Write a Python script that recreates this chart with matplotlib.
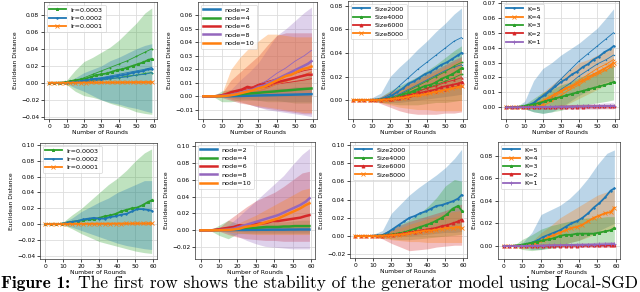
import matplotlib
matplotlib.use("Agg")
import matplotlib.pyplot as plt

# ---------------- data ----------------
ROUNDS_LINE = [0, 3, 6, 9, 12, 15, 18, 21, 24, 27, 30, 33, 36, 39, 42, 45, 48, 51, 54, 57, 59]
ROUNDS_BAND = [0, 5, 10, 15, 20, 25, 30, 35, 40, 45, 50, 55, 59]
X_TICKS = [0, 10, 20, 30, 40, 50, 60]

# Panel 1: learning rate (Local-SGD)
P1_LR3 = [0, 0, 0.0002, 0.0005, 0.002, 0.003, 0.004, 0.005, 0.007, 0.009, 0.010, 0.011, 0.013, 0.015, 0.016, 0.018, 0.020, 0.022, 0.024, 0.027, 0.028]
P1_LR2 = [0, 0, 0, 0.0002, 0.0005, 0.001, 0.002, 0.003, 0.004, 0.005, 0.005, 0.006, 0.007, 0.008, 0.009, 0.010, 0.012, 0.013, 0.014, 0.016, 0.016]
P1_LR1 = [0, 0, 0, 0, 0.0001, 0.0002, 0.0003, 0.0003, 0.0004, 0.0004, 0.0005, 0.0005, 0.0006, 0.0006, 0.0007, 0.0007, 0.0008, 0.0008, 0.0009, 0.0009, 0.001]
P1_LR3_LO = [0, 0, -0.002, -0.010, -0.015, -0.017, -0.020, -0.024, -0.027, -0.030, -0.034, -0.036, -0.037]
P1_LR3_HI = [0, 0, 0.003, 0.015, 0.025, 0.030, 0.036, 0.042, 0.050, 0.060, 0.070, 0.082, 0.088]
P1_LR2_LO = [0, 0, -0.001, -0.006, -0.010, -0.015, -0.020, -0.023, -0.025, -0.028, -0.030, -0.033, -0.035]
P1_LR2_HI = [0, 0, 0.001, 0.006, 0.012, 0.016, 0.020, 0.026, 0.030, 0.035, 0.040, 0.044, 0.046]
P1_LR1_LO = [0, 0, 0, -0.0003, -0.0004, -0.0005, -0.0005, -0.0006, -0.0006, -0.0007, -0.0007, -0.0008, -0.0008]
P1_LR1_HI = [0, 0, 0, 0.0006, 0.0008, 0.001, 0.0012, 0.0014, 0.0016, 0.0018, 0.002, 0.0022, 0.0024]
# individual runs (highest / lowest) of the top row
P1_LR3_RUN_HI = [0, 0, 0, 0.002, 0.006, 0.010, 0.014, 0.018, 0.022, 0.026, 0.031, 0.036, 0.040]
P1_LR3_RUN_LO = [0, 0, 0, 0.001, 0.002, 0.003, 0.004, 0.005, 0.006, 0.008, 0.009, 0.011, 0.012]
P1_LR2_RUN_HI = [0, 0, 0, 0.0005, 0.002, 0.004, 0.006, 0.008, 0.010, 0.012, 0.014, 0.016, 0.018]
P1_LR2_RUN_LO = [0, 0, 0, 0, 0.001, 0.002, 0.003, 0.005, 0.006, 0.007, 0.009, 0.010, 0.012]

# Panel 2: number of nodes (Local-SGD)
P2_N2 = [0, 0, 0, 0, 0, 0.0001, 0.0002, 0.0003, 0.0004, 0.0005, 0.0006, 0.0007, 0.0008, 0.0009, 0.001, 0.0011, 0.0012, 0.0013, 0.0014, 0.0015, 0.0016]
P2_N4 = [0, 0, 0, 0.0003, 0.0006, 0.001, 0.0013, 0.0017, 0.002, 0.0023, 0.0026, 0.003, 0.0033, 0.0036, 0.004, 0.0043, 0.0046, 0.005, 0.0053, 0.0056, 0.0058]
P2_N6 = [0, 0, 0, 0.0005, 0.0015, 0.003, 0.004, 0.005, 0.007, 0.006, 0.008, 0.009, 0.009, 0.010, 0.011, 0.012, 0.013, 0.014, 0.015, 0.016, 0.016]
P2_N8 = [0, 0, 0, 0.0002, 0.0006, 0.001, 0.002, 0.003, 0.004, 0.005, 0.007, 0.008, 0.010, 0.012, 0.014, 0.016, 0.018, 0.020, 0.022, 0.024, 0.026]
P2_N10 = [0, 0, 0, 0, 0.0003, 0.0008, 0.0015, 0.0025, 0.0035, 0.0045, 0.006, 0.007, 0.009, 0.011, 0.013, 0.015, 0.016, 0.018, 0.020, 0.021, 0.022]
P2_N2_LO = [0, 0, 0, -0.001, -0.002, -0.002, -0.003, -0.003, -0.003, -0.004, -0.004, -0.004, -0.004]
P2_N2_HI = [0, 0, 0, 0.002, 0.003, 0.004, 0.005, 0.005, 0.006, 0.006, 0.007, 0.007, 0.007]
P2_N4_LO = [0, 0, -0.004, -0.004, -0.003, -0.003, -0.003, -0.004, -0.004, -0.004, -0.005, -0.005, -0.005]
P2_N4_HI = [0, 0, 0.004, 0.005, 0.005, 0.006, 0.007, 0.008, 0.009, 0.010, 0.012, 0.014, 0.016]
P2_N6_LO = [0, 0, -0.001, -0.003, -0.005, -0.006, -0.008, -0.009, -0.010, -0.011, -0.012, -0.013, -0.013]
P2_N6_HI = [0, 0, 0.002, 0.012, 0.018, 0.024, 0.030, 0.038, 0.045, 0.047, 0.047, 0.047, 0.047]
P2_N8_LO = [0, 0, 0, -0.002, -0.004, -0.006, -0.008, -0.010, -0.011, -0.012, -0.013, -0.014, -0.015]
P2_N8_HI = [0, 0, 0, 0.005, 0.012, 0.018, 0.025, 0.035, 0.045, 0.050, 0.056, 0.062, 0.066]
P2_N10_LO = [0, 0, 0, -0.002, -0.004, -0.006, -0.007, -0.008, -0.009, -0.010, -0.011, -0.012, -0.012]
P2_N10_HI = [0, 0, 0.002, 0.020, 0.029, 0.036, 0.041, 0.046, 0.046, 0.045, 0.044, 0.044, 0.044]
P2_N6_RUN_HI = [0, 0, 0, 0.001, 0.004, 0.006, 0.009, 0.011, 0.013, 0.015, 0.017, 0.019, 0.020]
P2_N6_RUN_LO = [0, 0, 0, 0.0005, 0.002, 0.004, 0.006, 0.007, 0.009, 0.010, 0.011, 0.012, 0.013]
P2_N8_RUN_HI = [0, 0, 0, 0.0005, 0.002, 0.004, 0.008, 0.012, 0.017, 0.021, 0.026, 0.030, 0.034]
P2_N8_RUN_LO = [0, 0, 0, 0, 0.001, 0.002, 0.004, 0.006, 0.009, 0.011, 0.014, 0.016, 0.018]
P2_N10_RUN_HI = [0, 0, 0, 0, 0.001, 0.003, 0.006, 0.009, 0.013, 0.016, 0.019, 0.023, 0.026]
P2_N10_RUN_LO = [0, 0, 0, 0, 0.0005, 0.002, 0.004, 0.006, 0.009, 0.011, 0.013, 0.016, 0.018]

# Panel 3: dataset size (Local-SGD)
P3_S2000 = [0, 0, 0, 0.0002, 0.0005, 0.001, 0.002, 0.004, 0.007, 0.010, 0.014, 0.016, 0.019, 0.022, 0.024, 0.027, 0.030, 0.032, 0.035, 0.038, 0.040]
P3_S4000 = [0, 0, 0, 0, 0.0002, 0.0005, 0.001, 0.002, 0.003, 0.005, 0.006, 0.008, 0.010, 0.012, 0.013, 0.015, 0.018, 0.020, 0.022, 0.025, 0.027]
P3_S6000 = [0, 0, 0, 0, 0.0001, 0.0003, 0.0006, 0.0012, 0.002, 0.003, 0.004, 0.005, 0.006, 0.007, 0.008, 0.009, 0.011, 0.012, 0.013, 0.014, 0.015]
P3_S8000 = [0, 0, 0, 0, 0, 0.0002, 0.0004, 0.0008, 0.0015, 0.002, 0.003, 0.004, 0.004, 0.005, 0.006, 0.007, 0.008, 0.009, 0.010, 0.011, 0.012]
P3_S2000_LO = [0, 0, -0.001, -0.002, -0.002, -0.002, -0.001, 0.0, 0.001, 0.002, 0.003, 0.004, 0.005]
P3_S2000_HI = [0, 0, 0.002, 0.006, 0.020, 0.028, 0.035, 0.043, 0.050, 0.058, 0.065, 0.073, 0.078]
P3_S4000_LO = [0, 0, 0, -0.002, -0.003, -0.004, -0.004, -0.004, -0.003, -0.002, -0.002, -0.001, 0.0]
P3_S4000_HI = [0, 0, 0, 0.003, 0.008, 0.012, 0.016, 0.020, 0.025, 0.030, 0.036, 0.042, 0.046]
P3_S6000_LO = [0, 0, 0, -0.003, -0.006, -0.009, -0.011, -0.012, -0.012, -0.012, -0.011, -0.011, -0.010]
P3_S6000_HI = [0, 0, 0, 0.003, 0.007, 0.010, 0.014, 0.018, 0.022, 0.026, 0.030, 0.034, 0.037]
P3_S8000_LO = [0, 0, 0, -0.002, -0.004, -0.006, -0.007, -0.008, -0.008, -0.009, -0.009, -0.009, -0.009]
P3_S8000_HI = [0, 0, 0, 0.002, 0.006, 0.009, 0.013, 0.016, 0.020, 0.024, 0.028, 0.032, 0.035]
P3_S2000_RUN_HI = [0, 0, 0, 0.001, 0.005, 0.012, 0.019, 0.026, 0.032, 0.038, 0.044, 0.050, 0.053]
P3_S2000_RUN_LO = [0, 0, 0, 0, 0.002, 0.005, 0.009, 0.013, 0.017, 0.021, 0.025, 0.028, 0.030]
P3_S4000_RUN_HI = [0, 0, 0, 0, 0.001, 0.004, 0.008, 0.012, 0.016, 0.020, 0.024, 0.029, 0.032]
P3_S4000_RUN_LO = [0, 0, 0, 0, 0.0005, 0.002, 0.005, 0.008, 0.010, 0.013, 0.016, 0.019, 0.022]
P3_S6000_RUN_HI = [0, 0, 0, 0, 0.0005, 0.002, 0.004, 0.007, 0.010, 0.012, 0.015, 0.017, 0.019]
P3_S6000_RUN_LO = [0, 0, 0, 0, 0, 0.001, 0.002, 0.004, 0.006, 0.007, 0.009, 0.011, 0.012]

# Panel 4: local steps K (Local-SGD)
P4_K5 = [0, 0, 0, 0.0005, 0.0015, 0.003, 0.006, 0.008, 0.011, 0.014, 0.017, 0.019, 0.022, 0.024, 0.027, 0.029, 0.032, 0.034, 0.037, 0.039, 0.041]
P4_K4 = [0, 0, 0, 0, 0.0005, 0.001, 0.003, 0.005, 0.007, 0.009, 0.011, 0.013, 0.014, 0.016, 0.018, 0.020, 0.022, 0.024, 0.026, 0.028, 0.030]
P4_K3 = [0, 0, 0.0003, 0.0008, 0.0015, 0.002, 0.003, 0.004, 0.005, 0.006, 0.007, 0.008, 0.009, 0.010, 0.011, 0.012, 0.013, 0.014, 0.015, 0.016, 0.017]
P4_K2 = [0, 0, 0, 0.0001, 0.0001, 0.0002, 0.0002, 0.0003, 0.0003, 0.0003, 0.0004, 0.0004, 0.0005, 0.0005, 0.0005, 0.0006, 0.0006, 0.0006, 0.0007, 0.0007, 0.0007]
P4_K1 = [0, 0, 0, 0.0001, 0.0001, 0.0002, 0.0002, 0.0003, 0.0003, 0.0004, 0.0004, 0.0005, 0.0005, 0.0006, 0.0006, 0.0007, 0.0007, 0.0008, 0.0009, 0.0009, 0.001]
P4_K5_LO = [0, 0, -0.001, -0.003, -0.004, -0.003, 0.0, 0.004, 0.008, 0.011, 0.015, 0.017, 0.018]
P4_K5_HI = [0, 0, 0.004, 0.018, 0.026, 0.030, 0.035, 0.039, 0.043, 0.048, 0.053, 0.060, 0.066]
P4_K4_LO = [0, 0, 0, -0.001, -0.001, -0.001, 0.0, 0.003, 0.006, 0.009, 0.012, 0.015, 0.018]
P4_K4_HI = [0, 0, 0, 0.004, 0.010, 0.015, 0.020, 0.025, 0.030, 0.032, 0.035, 0.038, 0.040]
P4_K3_LO = [0, 0, -0.001, -0.003, -0.004, -0.003, -0.002, 0.0, 0.001, 0.002, 0.003, 0.004, 0.005]
P4_K3_HI = [0, 0, 0.002, 0.006, 0.010, 0.012, 0.015, 0.017, 0.020, 0.022, 0.024, 0.026, 0.028]
P4_K2_LO = [0, 0, 0, -0.001, -0.001, -0.001, -0.001, -0.001, -0.001, -0.001, -0.001, -0.001, -0.001]
P4_K2_HI = [0, 0, 0, 0.001, 0.001, 0.001, 0.0015, 0.0015, 0.002, 0.002, 0.002, 0.002, 0.002]
P4_K1_LO = [0, 0, 0, -0.001, -0.001, -0.001, -0.001, -0.001, -0.001, -0.001, -0.001, -0.0005, -0.0005]
P4_K1_HI = [0, 0, 0, 0.001, 0.001, 0.0015, 0.0015, 0.002, 0.002, 0.0025, 0.0025, 0.003, 0.003]
P4_K5_RUN_HI = [0, 0, 0, 0.002, 0.008, 0.013, 0.019, 0.025, 0.031, 0.036, 0.041, 0.046, 0.050]
P4_K5_RUN_LO = [0, 0, 0, 0.0005, 0.003, 0.007, 0.012, 0.016, 0.021, 0.025, 0.029, 0.032, 0.035]
P4_K4_RUN_HI = [0, 0, 0, 0, 0.002, 0.006, 0.010, 0.014, 0.018, 0.022, 0.026, 0.029, 0.032]
P4_K4_RUN_LO = [0, 0, 0, 0, 0.001, 0.004, 0.008, 0.012, 0.015, 0.019, 0.022, 0.025, 0.028]

# Panel 5: learning rate (second setting)
P5_LR3 = [0, 0, 0, 0.0005, 0.002, 0.003, 0.004, 0.005, 0.006, 0.006, 0.008, 0.010, 0.011, 0.013, 0.016, 0.018, 0.020, 0.021, 0.024, 0.028, 0.030]
P5_LR2 = [0, 0, 0, 0.0005, 0.002, 0.003, 0.004, 0.006, 0.007, 0.008, 0.007, 0.007, 0.009, 0.010, 0.012, 0.013, 0.016, 0.019, 0.019, 0.018, 0.017]
P5_LR1 = [0, 0, 0, 0, 0.0002, 0.0003, 0.0004, 0.0005, 0.0005, 0.0006, 0.0006, 0.0007, 0.0007, 0.0008, 0.0008, 0.0009, 0.0009, 0.001, 0.001, 0.001, 0.001]
P5_LR3_LO = [0, 0, -0.001, -0.006, -0.012, -0.017, -0.022, -0.025, -0.028, -0.031, -0.034, -0.036, -0.037]
P5_LR3_HI = [0, 0, 0.003, 0.012, 0.020, 0.030, 0.040, 0.050, 0.058, 0.068, 0.080, 0.090, 0.095]
P5_LR2_LO = [0, 0, -0.001, -0.004, -0.008, -0.012, -0.016, -0.020, -0.024, -0.027, -0.029, -0.031, -0.032]
P5_LR2_HI = [0, 0, 0.002, 0.008, 0.016, 0.022, 0.028, 0.033, 0.040, 0.045, 0.050, 0.055, 0.055]
P5_LR1_LO = [0, 0, 0, -0.0003, -0.0004, -0.0005, -0.0005, -0.0006, -0.0006, -0.0007, -0.0007, -0.0008, -0.0008]
P5_LR1_HI = [0, 0, 0, 0.0006, 0.0008, 0.001, 0.0012, 0.0014, 0.0016, 0.0018, 0.002, 0.0022, 0.0024]

# Panel 6: number of nodes (second setting)
P6_N2 = [0, 0, 0, 0.0001, 0.0002, 0.0003, 0.0004, 0.0005, 0.0005, 0.0006, 0.0006, 0.0007, 0.0007, 0.0008, 0.0008, 0.0008, 0.0009, 0.0009, 0.001, 0.001, 0.001]
P6_N4 = [0, 0, 0, 0.0005, 0.001, 0.0015, 0.002, 0.0025, 0.003, 0.003, 0.003, 0.0035, 0.004, 0.004, 0.004, 0.0045, 0.0045, 0.005, 0.005, 0.005, 0.005]
P6_N6 = [0, 0, 0, 0.001, 0.002, 0.003, 0.004, 0.006, 0.005, 0.007, 0.008, 0.008, 0.009, 0.011, 0.011, 0.012, 0.013, 0.014, 0.015, 0.017, 0.018]
P6_N8 = [0, 0, 0, 0.0002, 0.0005, 0.001, 0.002, 0.004, 0.006, 0.008, 0.010, 0.012, 0.014, 0.016, 0.018, 0.021, 0.024, 0.027, 0.030, 0.034, 0.038]
P6_N10 = [0, 0, 0, 0, 0.0002, 0.0005, 0.001, 0.002, 0.004, 0.005, 0.006, 0.008, 0.010, 0.012, 0.014, 0.017, 0.020, 0.023, 0.026, 0.030, 0.032]
P6_N2_LO = [0, 0, 0, -0.001, -0.001, -0.002, -0.002, -0.002, -0.002, -0.002, -0.002, -0.002, -0.002]
P6_N2_HI = [0, 0, 0, 0.002, 0.002, 0.003, 0.003, 0.003, 0.003, 0.003, 0.003, 0.003, 0.003]
P6_N4_LO = [0, 0, -0.006, -0.010, -0.004, -0.004, -0.004, -0.004, -0.004, -0.004, -0.004, -0.004, -0.004]
P6_N4_HI = [0, 0, 0.006, 0.012, 0.008, 0.008, 0.008, 0.009, 0.010, 0.010, 0.011, 0.012, 0.012]
P6_N6_LO = [0, 0, -0.001, -0.005, -0.008, -0.010, -0.011, -0.012, -0.012, -0.013, -0.013, -0.013, -0.013]
P6_N6_HI = [0, 0, 0.003, 0.012, 0.020, 0.028, 0.035, 0.040, 0.045, 0.052, 0.060, 0.068, 0.070]
P6_N8_LO = [0, 0, 0, -0.003, -0.007, -0.012, -0.016, -0.019, -0.020, -0.021, -0.022, -0.022, -0.022]
P6_N8_HI = [0, 0, 0, 0.006, 0.015, 0.025, 0.035, 0.045, 0.055, 0.065, 0.078, 0.090, 0.097]
P6_N10_LO = [0, 0, 0, -0.002, -0.003, -0.004, -0.005, -0.005, -0.005, -0.005, -0.005, -0.005, -0.005]
P6_N10_HI = [0, 0, 0, 0.003, 0.008, 0.013, 0.018, 0.024, 0.030, 0.036, 0.042, 0.048, 0.050]

# Panel 7: dataset size (second setting)
P7_S2000 = [0, 0, 0, 0.0003, 0.0008, 0.001, 0.004, 0.008, 0.012, 0.016, 0.020, 0.022, 0.025, 0.027, 0.030, 0.033, 0.034, 0.036, 0.038, 0.041, 0.045]
P7_S4000 = [0, 0, 0, 0, 0.0003, 0.0006, 0.0015, 0.002, 0.003, 0.004, 0.006, 0.008, 0.010, 0.012, 0.014, 0.017, 0.020, 0.024, 0.030, 0.033, 0.028]
P7_S6000 = [0, 0, 0, 0, 0.0002, 0.0004, 0.0008, 0.0015, 0.002, 0.003, 0.004, 0.005, 0.006, 0.007, 0.008, 0.009, 0.011, 0.012, 0.014, 0.016, 0.018]
P7_S8000 = [0, 0, 0, 0, 0.0001, 0.0003, 0.0006, 0.001, 0.0015, 0.002, 0.003, 0.004, 0.005, 0.006, 0.006, 0.007, 0.008, 0.009, 0.009, 0.010, 0.009]
P7_S2000_LO = [0, 0, -0.001, -0.002, 0.0, 0.0, 0.0, 0.001, 0.002, 0.003, 0.004, 0.004, 0.005]
P7_S2000_HI = [0, 0, 0.002, 0.006, 0.025, 0.035, 0.045, 0.053, 0.060, 0.067, 0.075, 0.085, 0.095]
P7_S4000_LO = [0, 0, 0, -0.002, -0.003, -0.004, -0.004, -0.003, -0.002, -0.001, 0.0, 0.001, 0.002]
P7_S4000_HI = [0, 0, 0, 0.003, 0.008, 0.013, 0.018, 0.024, 0.032, 0.042, 0.055, 0.062, 0.060]
P7_S6000_LO = [0, 0, 0, -0.003, -0.008, -0.012, -0.016, -0.015, -0.014, -0.012, -0.011, -0.010, -0.010]
P7_S6000_HI = [0, 0, 0, 0.003, 0.008, 0.012, 0.016, 0.019, 0.022, 0.025, 0.028, 0.032, 0.035]
P7_S8000_LO = [0, 0, 0, -0.002, -0.004, -0.005, -0.006, -0.006, -0.007, -0.007, -0.007, -0.007, -0.007]
P7_S8000_HI = [0, 0, 0, 0.002, 0.006, 0.009, 0.013, 0.016, 0.019, 0.022, 0.025, 0.027, 0.028]

# Panel 8: local steps K (second setting)
P8_K5 = [0, 0, 0.0002, 0.0006, 0.0015, 0.003, 0.005, 0.008, 0.010, 0.012, 0.014, 0.017, 0.020, 0.022, 0.025, 0.029, 0.034, 0.038, 0.043, 0.049, 0.051]
P8_K4 = [0, 0, 0, 0, 0.0005, 0.001, 0.003, 0.005, 0.008, 0.010, 0.012, 0.014, 0.016, 0.017, 0.019, 0.022, 0.025, 0.027, 0.029, 0.030, 0.034]
P8_K3 = [0, 0, 0.0005, 0.001, 0.002, 0.003, 0.004, 0.005, 0.006, 0.007, 0.009, 0.010, 0.010, 0.011, 0.011, 0.011, 0.011, 0.012, 0.013, 0.014, 0.016]
P8_K2 = [0, 0, 0, 0.0001, 0.0002, 0.0002, 0.0003, 0.0003, 0.0004, 0.0004, 0.0004, 0.0005, 0.0005, 0.0005, 0.0006, 0.0006, 0.0006, 0.0007, 0.0007, 0.0008, 0.0008]
P8_K1 = [0, 0, 0, 0.0001, 0.0002, 0.0003, 0.0004, 0.0005, 0.0006, 0.0007, 0.0008, 0.0009, 0.001, 0.0011, 0.0012, 0.0013, 0.0014, 0.0015, 0.0016, 0.0018, 0.002]
P8_K5_LO = [0, 0, -0.001, -0.003, -0.003, -0.001, 0.0, 0.003, 0.005, 0.009, 0.013, 0.017, 0.020]
P8_K5_HI = [0, 0, 0.003, 0.012, 0.028, 0.032, 0.036, 0.042, 0.050, 0.060, 0.072, 0.082, 0.085]
P8_K4_LO = [0, 0, 0, -0.002, -0.002, -0.001, 0.0, 0.003, 0.005, 0.008, 0.011, 0.013, 0.015]
P8_K4_HI = [0, 0, 0, 0.004, 0.012, 0.018, 0.025, 0.030, 0.035, 0.040, 0.045, 0.048, 0.050]
P8_K3_LO = [0, 0, -0.003, -0.004, -0.003, -0.002, -0.001, 0.0, 0.0, 0.0, 0.0, 0.001, 0.001]
P8_K3_HI = [0, 0, 0.006, 0.010, 0.015, 0.018, 0.020, 0.022, 0.024, 0.025, 0.025, 0.026, 0.026]
P8_K2_LO = [0, 0, 0, -0.001, -0.001, -0.001, -0.001, -0.001, -0.001, -0.001, -0.001, -0.001, -0.001]
P8_K2_HI = [0, 0, 0, 0.001, 0.001, 0.0015, 0.0015, 0.002, 0.002, 0.002, 0.002, 0.002, 0.002]
P8_K1_LO = [0, 0, 0, -0.001, -0.001, -0.001, -0.001, -0.001, -0.001, -0.0005, -0.0005, -0.0005, 0.0]
P8_K1_HI = [0, 0, 0, 0.001, 0.0015, 0.002, 0.002, 0.0025, 0.003, 0.003, 0.0035, 0.004, 0.004]

Y_TICKS = [
    [-0.04, -0.02, 0.00, 0.02, 0.04, 0.06, 0.08],
    [-0.01, 0.00, 0.01, 0.02, 0.03, 0.04, 0.05, 0.06],
    [0.00, 0.02, 0.04, 0.06, 0.08],
    [0.00, 0.01, 0.02, 0.03, 0.04, 0.05, 0.06, 0.07],
    [-0.04, -0.02, 0.00, 0.02, 0.04, 0.06, 0.08, 0.10],
    [-0.02, 0.00, 0.02, 0.04, 0.06, 0.08, 0.10],
    [-0.02, 0.00, 0.02, 0.04, 0.06, 0.08, 0.10],
    [0.00, 0.02, 0.04, 0.06, 0.08],
]

CAPTION_BOLD = "Figure 1:"
CAPTION = "The first row shows the stability of the generator model using Local-SGD"

# ---------------- style ----------------
BLUE, ORANGE, GREEN, RED, PURPLE = "#1f77b4", "#ff7f0e", "#2ca02c", "#d62728", "#9467bd"
MK = {BLUE: ".", ORANGE: "x", GREEN: "*", RED: "^", PURPLE: "+"}

PANELS = [
    # (series list, extra runs, ylim, axes px box (left, right, top, bottom), markers?)
    ([("lr=0.0003", GREEN, P1_LR3, P1_LR3_LO, P1_LR3_HI),
      ("lr=0.0002", BLUE, P1_LR2, P1_LR2_LO, P1_LR2_HI),
      ("lr=0.0001", ORANGE, P1_LR1, P1_LR1_LO, P1_LR1_HI)],
     [(GREEN, P1_LR3_RUN_HI), (GREEN, P1_LR3_RUN_LO), (BLUE, P1_LR2_RUN_HI), (BLUE, P1_LR2_RUN_LO)],
     (-0.0425, 0.095), (44, 157, 2, 119), True),
    ([("node=2", BLUE, P2_N2, P2_N2_LO, P2_N2_HI),
      ("node=4", GREEN, P2_N4, P2_N4_LO, P2_N4_HI),
      ("node=6", RED, P2_N6, P2_N6_LO, P2_N6_HI),
      ("node=8", PURPLE, P2_N8, P2_N8_LO, P2_N8_HI),
      ("node=10", ORANGE, P2_N10, P2_N10_LO, P2_N10_HI)],
     [(RED, P2_N6_RUN_HI), (RED, P2_N6_RUN_LO), (PURPLE, P2_N8_RUN_HI), (PURPLE, P2_N8_RUN_LO),
      (ORANGE, P2_N10_RUN_HI), (ORANGE, P2_N10_RUN_LO)],
     (-0.0168, 0.0698), (198, 317, 2, 119), False),
    ([("Size2000", BLUE, P3_S2000, P3_S2000_LO, P3_S2000_HI),
      ("Size4000", GREEN, P3_S4000, P3_S4000_LO, P3_S4000_HI),
      ("Size6000", RED, P3_S6000, P3_S6000_LO, P3_S6000_HI),
      ("Size8000", ORANGE, P3_S8000, P3_S8000_LO, P3_S8000_HI)],
     [(BLUE, P3_S2000_RUN_HI), (BLUE, P3_S2000_RUN_LO), (GREEN, P3_S4000_RUN_HI), (GREEN, P3_S4000_RUN_LO),
      (RED, P3_S6000_RUN_HI), (RED, P3_S6000_RUN_LO)],
     (-0.016, 0.084), (348, 467, 1, 119), True),
    ([("K=5", BLUE, P4_K5, P4_K5_LO, P4_K5_HI),
      ("K=4", ORANGE, P4_K4, P4_K4_LO, P4_K4_HI),
      ("K=3", GREEN, P4_K3, P4_K3_LO, P4_K3_HI),
      ("K=2", RED, P4_K2, P4_K2_LO, P4_K2_HI),
      ("K=1", PURPLE, P4_K1, P4_K1_LO, P4_K1_HI)],
     [(BLUE, P4_K5_RUN_HI), (BLUE, P4_K5_RUN_LO), (ORANGE, P4_K4_RUN_HI), (ORANGE, P4_K4_RUN_LO)],
     (-0.0078, 0.0712), (501, 619, 1, 119), True),
    ([("lr=0.0003", GREEN, P5_LR3, P5_LR3_LO, P5_LR3_HI),
      ("lr=0.0002", BLUE, P5_LR2, P5_LR2_LO, P5_LR2_HI),
      ("lr=0.0001", ORANGE, P5_LR1, P5_LR1_LO, P5_LR1_HI)],
     [], (-0.044, 0.1025), (40, 157, 143, 259), True),
    ([("node=2", BLUE, P6_N2, P6_N2_LO, P6_N2_HI),
      ("node=4", GREEN, P6_N4, P6_N4_LO, P6_N4_HI),
      ("node=6", RED, P6_N6, P6_N6_LO, P6_N6_HI),
      ("node=8", PURPLE, P6_N8, P6_N8_LO, P6_N8_HI),
      ("node=10", ORANGE, P6_N10, P6_N10_LO, P6_N10_HI)],
     [], (-0.034, 0.1047), (195, 315, 142, 259), False),
    ([("Size2000", BLUE, P7_S2000, P7_S2000_LO, P7_S2000_HI),
      ("Size4000", GREEN, P7_S4000, P7_S4000_LO, P7_S4000_HI),
      ("Size6000", RED, P7_S6000, P7_S6000_LO, P7_S6000_HI),
      ("Size8000", ORANGE, P7_S8000, P7_S8000_LO, P7_S8000_HI)],
     [], (-0.024, 0.103), (350, 467, 142, 258), True),
    ([("K=5", BLUE, P8_K5, P8_K5_LO, P8_K5_HI),
      ("K=4", ORANGE, P8_K4, P8_K4_LO, P8_K4_HI),
      ("K=3", GREEN, P8_K3, P8_K3_LO, P8_K3_HI),
      ("K=2", RED, P8_K2, P8_K2_LO, P8_K2_HI),
      ("K=1", PURPLE, P8_K1, P8_K1_LO, P8_K1_HI)],
     [], (-0.0114, 0.092), (498, 620, 142, 259), True),
]

W, H = 640, 292
FS = 4.3
fig = plt.figure(figsize=(W / 100, H / 100), dpi=100)

for i, (series, runs, ylim, box, use_mk) in enumerate(PANELS):
    l, r, t, b = box
    ax = fig.add_axes([l / W, 1 - b / H, (r - l) / W, (b - t) / H])
    for (lab, col, mean, lo, hi) in series:
        ax.fill_between(ROUNDS_BAND, lo, hi, color=col, alpha=0.3, linewidth=0)
    for (col, run) in runs:
        ax.plot(ROUNDS_BAND, run, color=col, lw=0.6, marker=MK[col] if use_mk else None, ms=1.2, mew=0.4)
    for (lab, col, mean, lo, hi) in series:
        if use_mk:
            ax.plot(ROUNDS_LINE, mean, color=col, lw=1.3, marker=MK[col], ms=2.2, mew=0.6, label=lab)
        else:
            ax.plot(ROUNDS_LINE, mean, color=col, lw=1.8, label=lab)
    ax.set_xlim(-3, 62)
    ax.set_ylim(*ylim)
    ax.set_xticks(X_TICKS)
    ax.set_yticks(Y_TICKS[i])
    ax.set_yticklabels([("\u2212%.2f" % abs(v)) if v < 0 else ("%.2f" % v) for v in Y_TICKS[i]])
    ax.tick_params(labelsize=FS, length=2, width=0.5, pad=1.5)
    ax.grid(True, color="#dddddd", lw=0.6)
    ax.set_axisbelow(True)
    for s in ax.spines.values():
        s.set_linewidth(0.5)
        s.set_color("#333333")
    ax.set_xlabel("Number of Rounds", fontsize=FS, labelpad=1)
    ax.set_ylabel("Euclidean Distance", fontsize=FS, labelpad=2)
    leg = ax.legend(loc="upper left", fontsize=FS + 0.3, handlelength=2.6, borderpad=0.4,
                    labelspacing=0.45, handletextpad=0.8, framealpha=0.8, borderaxespad=0.4)
    leg.get_frame().set_linewidth(0.5)

# caption: kept fully inside the canvas
cap_bold = fig.text(1 / W, 4 / H, CAPTION_BOLD, family=["cmb10", "DejaVu Serif"],
                    fontsize=12, ha="left", va="baseline")
cap = fig.text(0, 4 / H, CAPTION, family=["cmr10", "DejaVu Serif"], fontsize=12,
               ha="left", va="baseline")
fig.canvas.draw()
rend = fig.canvas.get_renderer()
wb = cap_bold.get_window_extent(rend).width
wr = cap.get_window_extent(rend).width
gap = 8
scale = (636 - gap) / (wb + wr)
cap_bold.set_fontsize(12 * scale)
cap.set_fontsize(12 * scale)
cap.set_x((1 + wb * scale + gap) / W)

fig.savefig("out.png", dpi=100)
